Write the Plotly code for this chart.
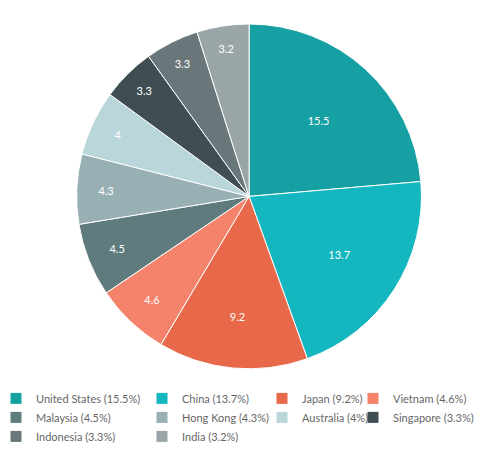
import plotly.graph_objects as go

paises = ["United States", "China", "Japan", "Vietnam", "Malaysia", "Hong Kong",
          "Australia", "Singapore", "Indonesia", "India"]
valores = [15.5, 13.7, 9.2, 4.6, 4.5, 4.3, 4, 3.3, 3.3, 3.2]
colores = ["#17a0a3", "#14b6bf", "#e8694a", "#f5826a", "#5f7b7d", "#98afb3",
           "#b9d6db", "#404e53", "#69777a", "#9aa5a8"]

etiquetas = [f"{p} ({v:g}%)" for p, v in zip(paises, valores)]

fig = go.Figure()
fig.add_pie(
    labels=etiquetas,
    values=valores,
    text=[f"{v:g}" for v in valores],
    textinfo="text",
    textposition="inside",
    insidetextorientation="horizontal",
    insidetextfont=dict(color="white", size=11),
    sort=False,
    direction="clockwise",
    rotation=0,
    showlegend=False,
    marker=dict(colors=colores, line=dict(color="white", width=1)),
    domain=dict(x=[0, 0.99], y=[0.2, 1]),
)

# Leyenda en 4 columnas, como en la original (una leyenda por columna)
for i, (et, col) in enumerate(zip(etiquetas, colores)):
    leyenda = "legend" if i % 4 == 0 else f"legend{i % 4 + 1}"
    fig.add_scatter(
        x=[None], y=[None], mode="markers", name=et,
        marker=dict(symbol="square", size=11, color=col),
        legend=leyenda, showlegend=True,
    )

columnas_px = [-12, 134, 254, 345]
ley = dict(orientation="v", y=0.165, yanchor="top", xanchor="left",
           itemwidth=30, tracegroupgap=0, bgcolor="rgba(0,0,0,0)",
           font=dict(size=11, color="#666"))
fig.update_layout(
    legend=dict(ley, x=columnas_px[0] / 487),
    legend2=dict(ley, x=columnas_px[1] / 487),
    legend3=dict(ley, x=columnas_px[2] / 487),
    legend4=dict(ley, x=columnas_px[3] / 487),
)

fig.update_xaxes(visible=False)
fig.update_yaxes(visible=False)
fig.update_layout(
    width=487, height=449,
    margin=dict(l=0, r=0, t=16, b=2, autoexpand=False),
    paper_bgcolor="white",
    plot_bgcolor="white",
    font=dict(family="Lato", size=12, color="#666"),
)

fig.write_html("out.html")
